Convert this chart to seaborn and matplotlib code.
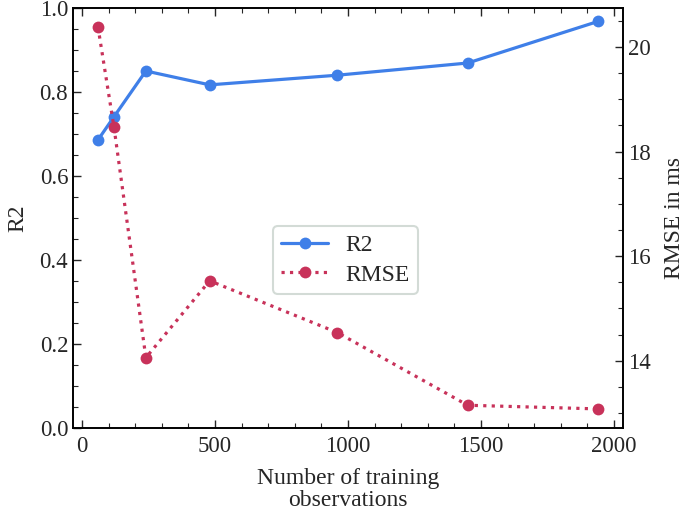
import matplotlib
matplotlib.use("Agg")
import matplotlib.pyplot as plt
from matplotlib.ticker import MultipleLocator
import seaborn as sns
import pandas as pd

n_obs = [60, 120, 240, 480, 960, 1450, 1940]
r2 = [0.686, 0.741, 0.850, 0.817, 0.840, 0.869, 0.968]
rmse = [20.38, 18.47, 14.06, 15.53, 14.54, 13.15, 13.08]

sns.set_style("ticks")
plt.rcParams['font.family'] = ['Liberation Serif', 'DejaVu Serif']
plt.rcParams['mathtext.fontset'] = 'stix'

df = pd.DataFrame({"n": n_obs, "r2": r2, "rmse": rmse})

blue = "#3f7fe8"
red = "#c8325a"

fig = plt.figure(figsize=(6.85, 5.13), dpi=100)
ax = fig.add_axes([73/685, 1 - 428/513, 550/685, 420/513])
ax2 = ax.twinx()

sns.lineplot(data=df, x="n", y="r2", ax=ax, color=blue, marker="o",
             markersize=8.5, markeredgewidth=0, linewidth=2.3, label="R2", legend=False)
sns.lineplot(data=df, x="n", y="rmse", ax=ax2, color=red, marker="o",
             markersize=8.5, markeredgewidth=0, linewidth=2.3, linestyle=":",
             label="RMSE", legend=False)

ax.set_ylim(0, 1.0)
ax.set_xlim(-34, 2034)
ax2.set_ylim(12.715, 20.745)

ax.xaxis.set_major_locator(MultipleLocator(500))
ax.xaxis.set_minor_locator(MultipleLocator(100))
ax.yaxis.set_major_locator(MultipleLocator(0.2))
ax.yaxis.set_minor_locator(MultipleLocator(0.05))
ax2.yaxis.set_major_locator(MultipleLocator(2))
ax2.yaxis.set_minor_locator(MultipleLocator(0.5))

fs = 17
tfs = 16.5
ax.tick_params(which="both", direction="in", top=True, right=False, labelsize=tfs)
ax.tick_params(which="major", length=6, width=1)
ax.tick_params(which="minor", length=3.5, width=0.8)
ax.tick_params(axis="x", which="major", pad=6)
ax2.tick_params(which="both", direction="in", labelsize=tfs)
ax2.tick_params(which="major", length=6, width=1)
ax2.tick_params(which="minor", length=3.5, width=0.8)

ax.set_xlabel("Number of training\nobservations", fontsize=fs, labelpad=8,
              linespacing=1.05)
ax.set_ylabel("R2", fontsize=fs, labelpad=8)
ax2.set_ylabel("RMSE in ms", fontsize=fs, labelpad=10)

for a in (ax, ax2):
    for s in a.spines.values():
        s.set_linewidth(1.2)
        s.set_color("black")

h1, l1 = ax.get_legend_handles_labels()
h2, l2 = ax2.get_legend_handles_labels()
leg = ax2.legend(h1 + h2, l1 + l2, loc="center", bbox_to_anchor=(0.495, 0.4),
                 fontsize=fs, frameon=True, fancybox=True, edgecolor="#c8d2cc",
                 handlelength=2.0, handletextpad=0.7, borderpad=0.35,
                 labelspacing=0.35)
leg.get_frame().set_linewidth(1.5)

fig.savefig("out.png", dpi=100)
